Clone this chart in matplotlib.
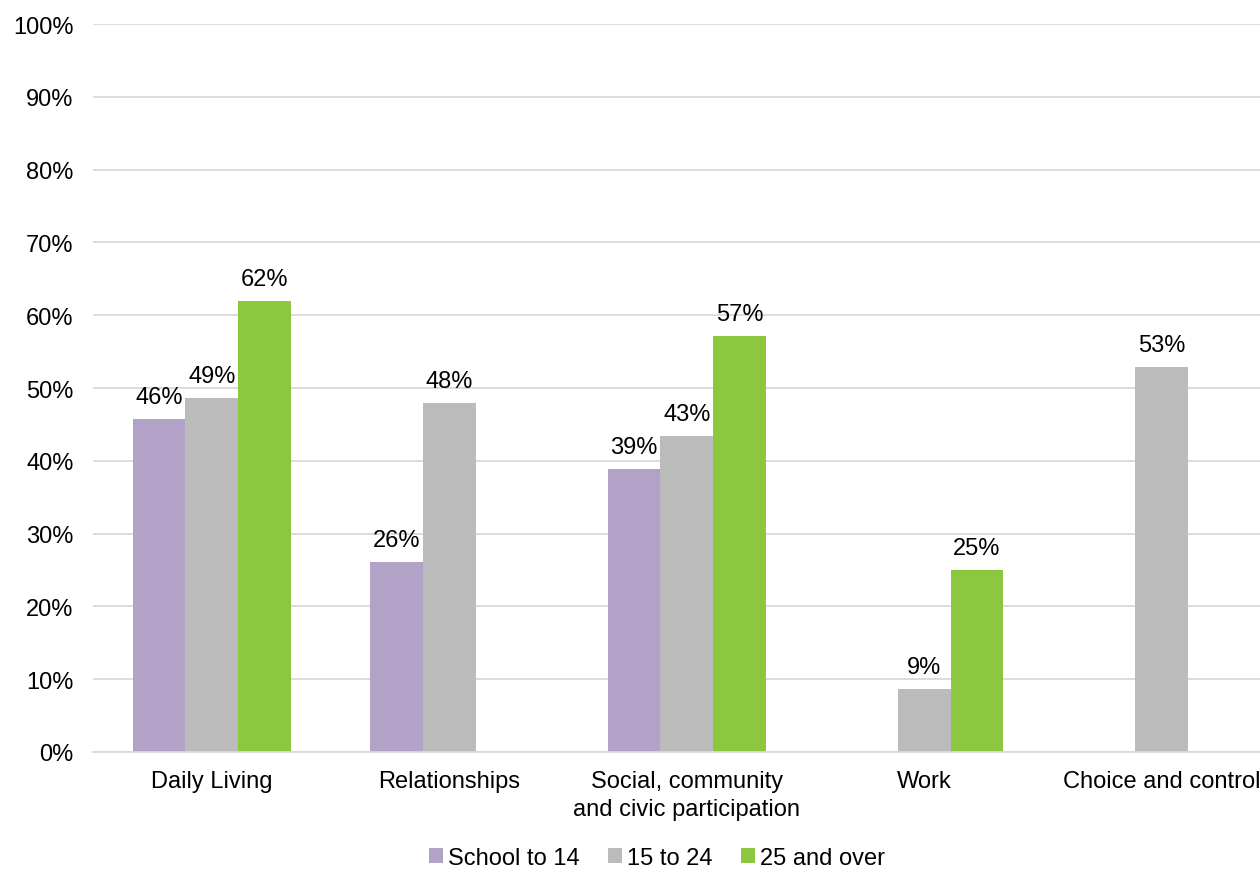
import matplotlib.pyplot as plt
import numpy as np

plt.rcParams['font.family'] = ['Liberation Sans', 'DejaVu Sans']

categories = ['Daily Living', 'Relationships', 'Social, community\nand civic participation',
              'Work', 'Choice and control']
series_names = ['School to 14', '15 to 24', '25 and over']
school_to_14 = [45.7, 26.1, 38.9, None, None]
age_15_to_24 = [48.6, 47.9, 43.4, 8.6, 52.9]
age_25_over = [61.9, None, 57.1, 25.0, None]
colors = ['#B3A2C7', '#BBBBBB', '#8DC73F']

fig = plt.figure(figsize=(12.6, 8.7), dpi=100)
ax = fig.add_axes([93 / 1260, 117 / 870, 1187.5 / 1260, 728 / 870])

fs = 17
x = np.arange(len(categories))
width = 0.222
for i, (vals, name, col) in enumerate(zip([school_to_14, age_15_to_24, age_25_over], series_names, colors)):
    xs = [xi + (i - 1) * width for xi, v in zip(x, vals) if v is not None]
    ys = [v for v in vals if v is not None]
    bars = ax.bar(xs, ys, width=width, color=col, label=name, zorder=2)
    for b, v in zip(bars, ys):
        ax.annotate(f"{v:.0f}%", (b.get_x() + b.get_width() / 2, v),
                    xytext=(0, 8), textcoords='offset points',
                    ha='center', va='bottom', fontsize=fs, color='#000000')

ax.set_xlim(-0.5, len(categories) - 0.5)
ax.set_ylim(0, 100)
ax.set_yticks(range(0, 101, 10))
ax.set_yticklabels([f"{t}%" for t in range(0, 101, 10)], fontsize=fs)
ax.set_xticks(x)
ax.set_xticklabels(categories, fontsize=fs, linespacing=1.35)
ax.tick_params(axis='y', length=0, pad=14)
ax.tick_params(axis='x', length=0, pad=13)
ax.yaxis.grid(True, color='#D9D9D9', linewidth=1.3, zorder=0)
ax.set_axisbelow(True)
for s in ['top', 'right', 'left']:
    ax.spines[s].set_visible(False)
ax.spines['bottom'].set_color('#D9D9D9')
ax.spines['bottom'].set_linewidth(1.3)

fig.legend(loc='center', bbox_to_anchor=(657 / 1260, 1 - 859 / 870), ncol=3, frameon=False,
           fontsize=fs, handlelength=0.6, handleheight=0.6, handletextpad=0.2, columnspacing=1.2)

fig.savefig('out.png', dpi=100)
